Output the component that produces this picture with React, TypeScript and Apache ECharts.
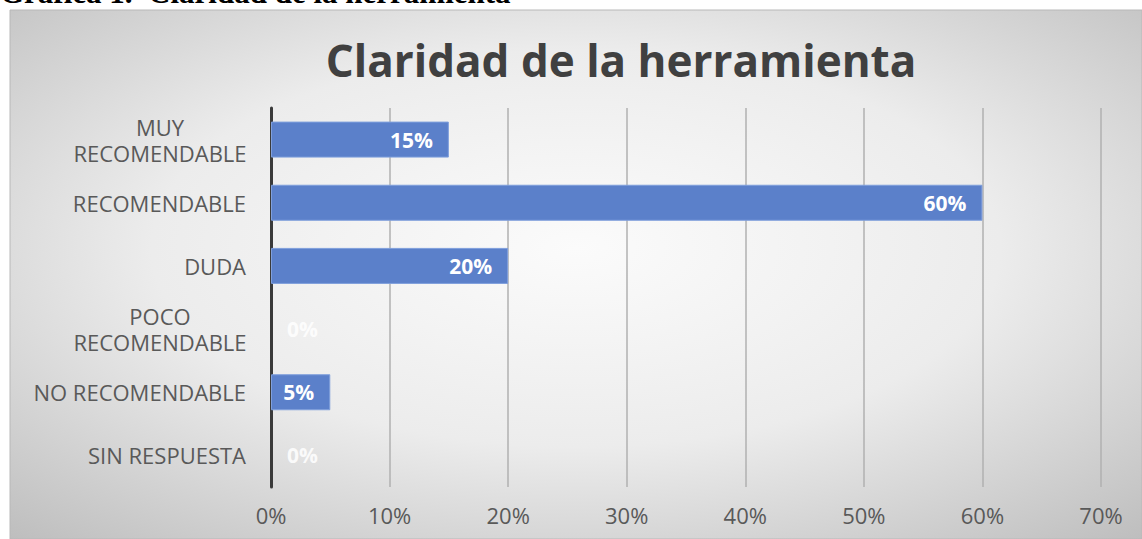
import React, { useEffect, useRef } from "react";
import * as echarts from "echarts";

const categories = [
  "MUY\nRECOMENDABLE",
  "RECOMENDABLE",
  "DUDA",
  "POCO\nRECOMENDABLE",
  "NO RECOMENDABLE",
  "SIN RESPUESTA",
];
const values = [15, 60, 20, 0, 5, 0];
const xTicks = [0, 10, 20, 30, 40, 50, 60, 70];
const chartTitle = "Claridad de la herramienta";
const caption = "Gráfica 1.  Claridad de la herramienta";

export default function App() {
  const ref = useRef<HTMLDivElement>(null);
  useEffect(() => {
    if (!ref.current) return;
    const chart = echarts.init(ref.current, undefined, { renderer: "svg" });
    const font = "'Open Sans', 'Noto Sans', sans-serif";
    chart.setOption({
      animation: false,
      graphic: [
        {
          type: "rect",
          z: -10,
          shape: { x: 10, y: 10, width: 1132, height: 529 },
          style: {
            fill: {
              type: "radial",
              x: 0.5,
              y: 0.45,
              r: 0.75,
              colorStops: [
                { offset: 0, color: "#fbfbfb" },
                { offset: 0.5, color: "#ececec" },
                { offset: 1, color: "#bdbdbd" },
              ],
            },
            stroke: "#b8b8b8",
            lineWidth: 1,
          },
        },
        {
          type: "text",
          left: 0,
          top: -23,
          style: {
            text: caption,
            font: "bold 31px 'Liberation Serif', 'DejaVu Serif', serif",
            fill: "#000",
          },
        },
        {
          type: "text",
          x: 621,
          y: 60,
          style: {
            text: chartTitle,
            font: `bold 44px ${font}`,
            fill: "#404040",
            textAlign: "center",
            textVerticalAlign: "middle",
          },
        },
      ],
      grid: { left: 271, right: 41, top: 108, bottom: 52 },
      xAxis: {
        type: "value",
        min: 0,
        max: 70,
        interval: 10,
        axisLine: { show: false },
        axisTick: { show: false },
        splitLine: { lineStyle: { color: "#b0b0b0", width: 1.5 } },
        axisLabel: {
          formatter: (v: number) => (xTicks.includes(v) ? `${v}%` : ""),
          fontFamily: font,
          fontSize: 22,
          color: "#595959",
          margin: 17,
        },
      },
      yAxis: {
        type: "category",
        inverse: true,
        data: categories,
        axisLine: { show: true, lineStyle: { color: "#3a3a3a", width: 3 } },
        axisTick: { show: false },
        axisLabel: {
          fontFamily: font,
          fontSize: 22,
          color: "#595959",
          margin: 25,
          lineHeight: 26,
          formatter: (v: string) =>
            v.includes("\n")
              ? v
                  .split("\n")
                  .map((s) => `{c|${s}}`)
                  .join("\n")
              : v,
          rich: {
            c: {
              width: 172,
              align: "center",
              fontFamily: font,
              fontSize: 22,
              color: "#595959",
              lineHeight: 26,
            },
          },
        },
      },
      series: [
        {
          type: "bar",
          barWidth: "57%",
          data: values.map((v) =>
            v === 0
              ? {
                  value: v,
                  itemStyle: { borderWidth: 0 },
                  label: {
                    position: "right",
                    distance: 16,
                    color: "rgba(255,255,255,0.85)",
                  },
                }
              : { value: v }
          ),
          itemStyle: {
            color: "#5b80ca",
            borderColor: "#7f9fdc",
            borderWidth: 1,
          },
          label: {
            show: true,
            position: "insideRight",
            distance: 16,
            formatter: (p: any) => `${p.value}%`,
            fontFamily: font,
            fontSize: 21,
            fontWeight: "bold",
            color: "#ffffff",
          },
        },
      ],
    });
    return () => chart.dispose();
  }, []);
  return (
    <div
      ref={ref}
      style={{ position: "absolute", left: 0, top: 0, width: 1142, height: 539 }}
    />
  );
}
